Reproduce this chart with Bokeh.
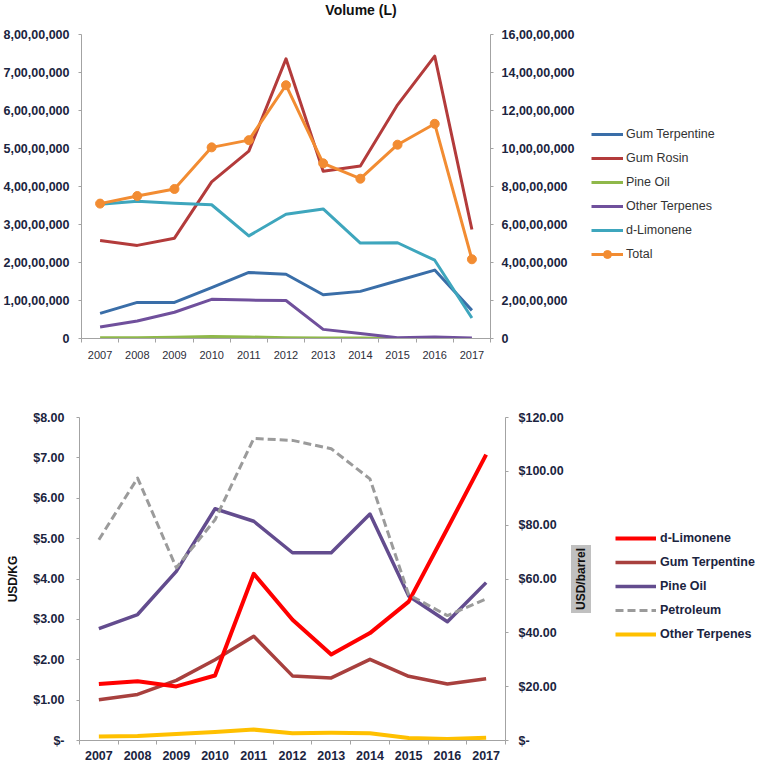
import math
from bokeh.plotting import figure
from bokeh.models import (Range1d, LinearAxis, FixedTicker, Legend, LegendItem, Label)
from bokeh.layouts import column, row
from bokeh.embed import file_html
from bokeh.resources import INLINE

NaN = float("nan")

# ---------------- data ----------------
years = [2007, 2008, 2009, 2010, 2011, 2012, 2013, 2014, 2015, 2016, 2017]

# Top chart: Volume (L)  (Total on the right axis)
gum_terpentine_vol = [6_600_000, 9_500_000, 9_500_000, 13_400_000, 17_400_000, 16_900_000,
                      11_500_000, 12_400_000, 15_200_000, 18_000_000, 7_400_000]
gum_rosin_vol = [25_800_000, 24_500_000, 26_400_000, 41_200_000, 49_300_000, 73_600_000,
                 44_000_000, 45_400_000, 61_500_000, 74_300_000, 28_700_000]
pine_oil_vol = [200_000, 200_000, 300_000, 500_000, 400_000, 200_000,
                100_000, 100_000, 0, NaN, NaN]
other_terpenes_vol = [3_000_000, 4_600_000, 6_900_000, 10_300_000, 10_100_000, 10_000_000,
                      2_400_000, 1_300_000, 200_000, 400_000, 100_000]
d_limonene_vol = [35_300_000, 36_100_000, 35_600_000, 35_200_000, 27_000_000, 32_700_000,
                  34_100_000, 25_100_000, 25_200_000, 20_600_000, 5_400_000]
total_vol = [71_000_000, 75_000_000, 78_700_000, 100_600_000, 104_400_000, 133_300_000,
             92_200_000, 84_100_000, 102_000_000, 113_000_000, 41_700_000]

vol_left_ticks = [0, 10_000_000, 20_000_000, 30_000_000, 40_000_000, 50_000_000,
                  60_000_000, 70_000_000, 80_000_000]
vol_left_labels = ["0", "1,00,00,000", "2,00,00,000", "3,00,00,000", "4,00,00,000",
                   "5,00,00,000", "6,00,00,000", "7,00,00,000", "8,00,00,000"]
vol_right_ticks = [0, 20_000_000, 40_000_000, 60_000_000, 80_000_000, 100_000_000,
                   120_000_000, 140_000_000, 160_000_000]
vol_right_labels = ["0", "2,00,00,000", "4,00,00,000", "6,00,00,000", "8,00,00,000",
                    "10,00,00,000", "12,00,00,000", "14,00,00,000", "16,00,00,000"]

# Bottom chart: prices (USD/KG left, Petroleum USD/barrel right)
d_limonene_price = [1.40, 1.47, 1.34, 1.61, 4.13, 2.99, 2.13, 2.66, 3.44, 5.25, 7.08]
gum_terpentine_price = [1.01, 1.14, 1.49, 2.00, 2.58, 1.60, 1.55, 2.01, 1.59, 1.40, 1.53]
pine_oil_price = [2.77, 3.12, 4.19, 5.74, 5.43, 4.65, 4.65, 5.61, 3.58, 2.94, 3.91]
petroleum_price = [74.6, 97.5, 64.2, 82.0, 112.2, 111.5, 108.4, 97.2, 54.2, 46.4, 52.6]
other_terpenes_price = [0.10, 0.11, 0.16, 0.21, 0.27, 0.18, 0.19, 0.18, 0.06, 0.04, 0.07]

kg_ticks = [0, 1, 2, 3, 4, 5, 6, 7, 8]
kg_labels = ["$-", "$1.00", "$2.00", "$3.00", "$4.00", "$5.00", "$6.00", "$7.00", "$8.00"]
barrel_ticks = [0, 20, 40, 60, 80, 100, 120]
barrel_labels = ["$-", "$20.00", "$40.00", "$60.00", "$80.00", "$100.00", "$120.00"]

# ---------------- styling ----------------
FONT = "Liberation Sans"
NAVY = "#1b2440"
AXIS_GRAY = "#a3a3a3"
boundaries = [y - 0.5 for y in years] + [years[-1] + 0.5]

C_GT, C_GR, C_PO, C_OT, C_DL, C_TOT = "#3a6ea8", "#b33b3b", "#8fb84a", "#70509c", "#3ea6bd", "#f28c32"
C_DL2, C_GT2, C_PO2, C_PE2, C_OT2 = "#ff0000", "#a8403e", "#634c8e", "#9b9b9b", "#ffc000"


def style_axis(ax, ticks, labels, standoff, bold=True, size="12.5px", color=NAVY):
    ax.ticker = FixedTicker(ticks=ticks, minor_ticks=[])
    ax.major_label_overrides = dict(zip(ticks, labels))
    ax.major_label_text_font = FONT
    ax.major_label_text_font_size = size
    ax.major_label_text_font_style = "bold" if bold else "normal"
    ax.major_label_text_color = color
    ax.major_label_standoff = standoff
    ax.major_tick_out = 3
    ax.major_tick_in = 0
    ax.minor_tick_out = 0
    ax.minor_tick_in = 0
    ax.axis_line_color = AXIS_GRAY
    ax.major_tick_line_color = AXIS_GRAY


def style_xaxis(ax, standoff, bold, size, color):
    ax.ticker = FixedTicker(ticks=years, minor_ticks=boundaries)
    ax.major_label_text_font = FONT
    ax.major_label_text_font_size = size
    ax.major_label_text_font_style = "bold" if bold else "normal"
    ax.major_label_text_color = color
    ax.major_label_standoff = standoff
    ax.major_tick_out = 0
    ax.major_tick_in = 0
    ax.minor_tick_out = 4
    ax.minor_tick_in = 0
    ax.axis_line_color = AXIS_GRAY
    ax.minor_tick_line_color = AXIS_GRAY


def legend_panel(width, height):
    # a frame-only figure that hosts a legend; its ranges lie away from the data,
    # so the proxy renderers only show up as legend glyphs
    f = figure(width=width, height=height, x_range=Range1d(0, 1), y_range=Range1d(0, 1),
               output_backend="svg", toolbar_location=None,
               x_axis_location=None, y_axis_location=None,
               min_border_left=0, min_border_right=0, min_border_top=0, min_border_bottom=0)
    f.xgrid.visible = False
    f.ygrid.visible = False
    f.outline_line_color = None
    return f


# ================= TOP CHART =================
H1 = 362
W1 = 580
p1 = figure(width=W1, height=H1, x_range=Range1d(2006.5, 2017.5), y_range=Range1d(0, 80_000_000),
            output_backend="svg", toolbar_location=None,
            min_border_left=79, min_border_right=W1 - 490, min_border_top=34, min_border_bottom=24)
p1.extra_y_ranges = {"right": Range1d(0, 160_000_000)}
p1.xgrid.visible = False
p1.ygrid.visible = False
p1.outline_line_color = None

style_xaxis(p1.xaxis[0], 8, False, "11px", "#2e2e3a")
style_axis(p1.yaxis[0], vol_left_ticks, vol_left_labels, 9)
ax_r1 = LinearAxis(y_range_name="right")
style_axis(ax_r1, vol_right_ticks, vol_right_labels, 8)
p1.add_layout(ax_r1, "right")

lw = 3
p1.line(years, gum_terpentine_vol, line_color=C_GT, line_width=lw, line_join="round")
p1.line(years, gum_rosin_vol, line_color=C_GR, line_width=lw, line_join="round")
p1.line(years, pine_oil_vol, line_color=C_PO, line_width=lw, line_join="round")
p1.line(years, other_terpenes_vol, line_color=C_OT, line_width=lw, line_join="round")
p1.line(years, d_limonene_vol, line_color=C_DL, line_width=lw, line_join="round")
p1.line(years, total_vol, y_range_name="right", line_color=C_TOT, line_width=lw, line_join="round")
p1.scatter(years, total_vol, y_range_name="right", marker="circle", size=9,
           fill_color=C_TOT, line_color=C_TOT)

title1 = Label(x=279.5, y=25, x_units="screen", y_units="screen", text="Volume (L)",
               anchor="center", text_font=FONT, text_font_size="14px",
               text_font_style="bold", text_color="#111111")
p1.add_layout(title1, "above")

# legend panel for the top chart (its frame is aligned with p1's frame in the row)
l1 = legend_panel(757 - W1, H1)
k_gt = l1.line(years, gum_terpentine_vol, line_color=C_GT, line_width=lw)
k_gr = l1.line(years, gum_rosin_vol, line_color=C_GR, line_width=lw)
k_po = l1.line(years, pine_oil_vol, line_color=C_PO, line_width=lw)
k_ot = l1.line(years, other_terpenes_vol, line_color=C_OT, line_width=lw)
k_dl = l1.line(years, d_limonene_vol, line_color=C_DL, line_width=lw)
k_tl = l1.line(years, total_vol, line_color=C_TOT, line_width=lw)
k_tm = l1.scatter(years, total_vol, marker="circle", size=9, fill_color=C_TOT, line_color=C_TOT)
leg1 = Legend(items=[
    LegendItem(label="Gum Terpentine", renderers=[k_gt]),
    LegendItem(label="Gum Rosin", renderers=[k_gr]),
    LegendItem(label="Pine Oil", renderers=[k_po]),
    LegendItem(label="Other Terpenes", renderers=[k_ot]),
    LegendItem(label="d-Limonene", renderers=[k_dl]),
    LegendItem(label="Total", renderers=[k_tl, k_tm]),
], location=(11, 74), orientation="vertical", border_line_color=None,
    background_fill_alpha=0, padding=0, margin=0, spacing=4, label_height=20,
    glyph_height=20, glyph_width=32, label_standoff=3,
    label_text_font=FONT, label_text_font_size="12.5px", label_text_color="#333333")
l1.add_layout(leg1)

# ================= BOTTOM CHART =================
H2 = 400
W2 = 569
p2 = figure(width=W2, height=H2, x_range=Range1d(2006.5, 2017.5), y_range=Range1d(0, 8),
            output_backend="svg", toolbar_location=None,
            min_border_left=79, min_border_right=W2 - 505, min_border_top=55, min_border_bottom=22)
p2.extra_y_ranges = {"right": Range1d(0, 120)}
p2.xgrid.visible = False
p2.ygrid.visible = False
p2.outline_line_color = None

style_xaxis(p2.xaxis[0], 6, True, "12.5px", NAVY)
style_axis(p2.yaxis[0], kg_ticks, kg_labels, 12)
p2.yaxis[0].axis_label = "USD/KG"
p2.yaxis[0].axis_label_text_font = FONT
p2.yaxis[0].axis_label_text_font_size = "12px"
p2.yaxis[0].axis_label_text_font_style = "bold"
p2.yaxis[0].axis_label_text_color = "#111111"
p2.yaxis[0].axis_label_standoff = 10
ax_r2 = LinearAxis(y_range_name="right")
style_axis(ax_r2, barrel_ticks, barrel_labels, 10)
p2.add_layout(ax_r2, "right")

p2.line(years, pine_oil_price, line_color=C_PO2, line_width=3.5, line_join="round")
p2.line(years, gum_terpentine_price, line_color=C_GT2, line_width=3.5, line_join="round")
p2.line(years, d_limonene_price, line_color=C_DL2, line_width=4, line_join="round")
p2.line(years, other_terpenes_price, line_color=C_OT2, line_width=4, line_join="round")
p2.line(years, petroleum_price, y_range_name="right", line_color=C_PE2, line_width=3,
        line_dash="8 4", line_join="round")

# legend panel for the bottom chart (also holds the "USD/barrel" axis title)
l2 = legend_panel(757 - W2, H2)
k_dl2 = l2.line(years, d_limonene_price, line_color=C_DL2, line_width=4)
k_gt2 = l2.line(years, gum_terpentine_price, line_color=C_GT2, line_width=3.5)
k_po2 = l2.line(years, pine_oil_price, line_color=C_PO2, line_width=3.5)
k_pe2 = l2.line(years, petroleum_price, line_color=C_PE2, line_width=3, line_dash="8 4")
k_ot2 = l2.line(years, other_terpenes_price, line_color=C_OT2, line_width=4)
leg2 = Legend(items=[
    LegendItem(label="d-Limonene", renderers=[k_dl2]),
    LegendItem(label="Gum Terpentine", renderers=[k_gt2]),
    LegendItem(label="Pine Oil", renderers=[k_po2]),
    LegendItem(label="Petroleum", renderers=[k_pe2]),
    LegendItem(label="Other Terpenes", renderers=[k_ot2]),
], location=(46, 96), orientation="vertical", border_line_color=None,
    background_fill_alpha=0, padding=0, margin=0, spacing=4, label_height=20,
    glyph_height=20, glyph_width=41, label_standoff=4,
    label_text_font=FONT, label_text_font_size="12.5px", label_text_font_style="bold",
    label_text_color=NAVY)
l2.add_layout(leg2)

barrel_label = Label(x=11.5, y=161.5, x_units="screen", y_units="screen", text="USD/barrel",
                     angle=math.pi / 2, anchor="center", text_font=FONT, text_font_size="12px",
                     text_font_style="bold", text_color="#111111",
                     background_fill_color="#c0c0c0", padding=3)
l2.add_layout(barrel_label)

layout = column(row(p1, l1, spacing=0), row(p2, l2, spacing=0), spacing=0)
open("out.html", "w").write(file_html(layout, INLINE))
